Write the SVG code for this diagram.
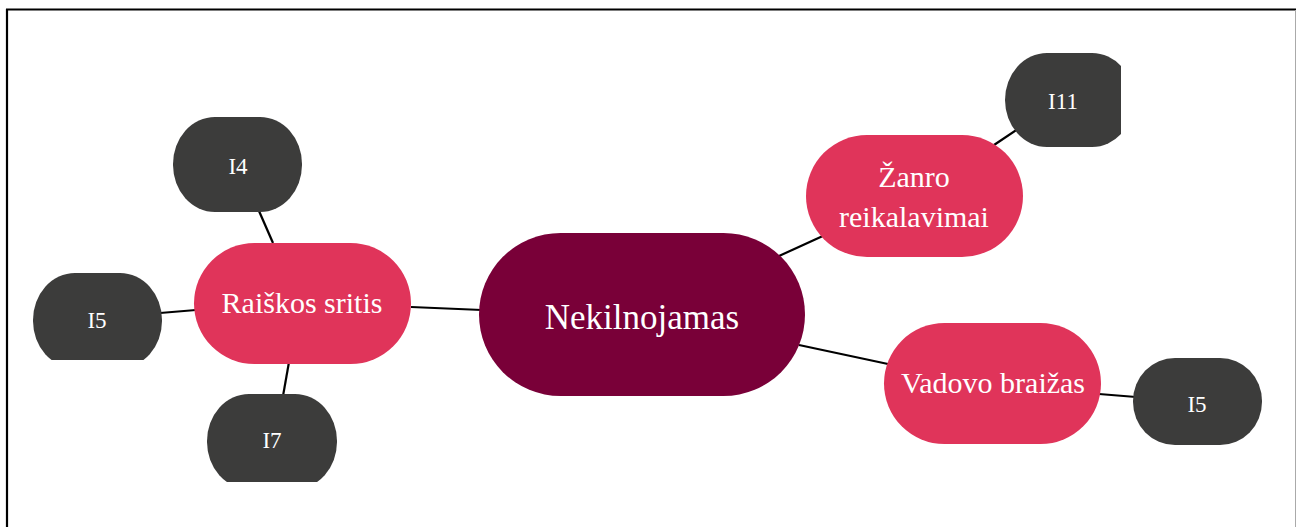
<svg xmlns="http://www.w3.org/2000/svg" width="1296" height="527" viewBox="0 0 1296 527">
<style>
.lbl{font-family:"Liberation Serif","Times New Roman",serif;fill:#ffffff;text-anchor:middle}
.main{fill:#790038}
.sub{fill:#e0345a}
.leaf{fill:#3c3c3b}
.conn line{stroke:#000;stroke-width:2.2}
</style>
<defs>
<clipPath id="clipI11"><rect x="990" y="40" width="131" height="120"/></clipPath>
<clipPath id="clipI5a"><rect x="20" y="260" width="160" height="100"/></clipPath>
<clipPath id="clipI7"><rect x="195" y="385" width="160" height="97"/></clipPath>
</defs>
<rect x="0" y="0" width="1296" height="527" fill="#ffffff"/>
<g id="frame">
<line x1="7" y1="9" x2="7" y2="527" stroke="#000" stroke-width="2.2"/>
<line x1="6" y1="9.5" x2="1296" y2="9.5" stroke="#000" stroke-width="2.2"/>
<line x1="1295.5" y1="10" x2="1295.5" y2="527" stroke="#aaa" stroke-width="1"/>
</g>
<g id="connectors" class="conn">
<line x1="411" y1="307" x2="482" y2="310"/>
<line x1="273" y1="243" x2="259" y2="211"/>
<line x1="196" y1="310" x2="160" y2="313"/>
<line x1="289" y1="362" x2="283" y2="396"/>
<line x1="779" y1="256" x2="825" y2="235"/>
<line x1="994" y1="145" x2="1018" y2="129"/>
<line x1="799" y1="345" x2="888" y2="364"/>
<line x1="1099" y1="394" x2="1136" y2="397"/>
</g>
<g id="n-nekilnojamas">
<rect class="main" x="479" y="233" width="326" height="163" rx="81.5"/>
<text class="lbl" x="642" y="329" font-size="35">Nekilnojamas</text>
</g>
<g id="n-raiskos">
<rect class="sub" x="194" y="243" width="217" height="121" rx="60.5"/>
<text class="lbl" x="302" y="313" font-size="30">Raiškos sritis</text>
</g>
<g id="n-zanro">
<rect class="sub" x="806" y="135" width="217" height="122" rx="61"/>
<text class="lbl" x="914" y="187" font-size="30">Žanro</text>
<text class="lbl" x="914" y="227" font-size="30">reikalavimai</text>
</g>
<g id="n-vadovo">
<rect class="sub" x="884" y="323" width="217" height="121" rx="60.5"/>
<text class="lbl" x="993" y="393" font-size="30">Vadovo braižas</text>
</g>
<g id="n-i4">
<rect class="leaf" x="173" y="117" width="129" height="95" rx="42" ry="47"/>
<text class="lbl" x="238" y="174" font-size="23">I4</text>
</g>
<g id="n-i5a">
<rect class="leaf" x="33" y="273" width="129" height="95" rx="42" ry="47" clip-path="url(#clipI5a)"/>
<text class="lbl" x="97" y="328" font-size="23">I5</text>
</g>
<g id="n-i7">
<rect class="leaf" x="207" y="394" width="130" height="95" rx="42" ry="47" clip-path="url(#clipI7)"/>
<text class="lbl" x="272" y="448" font-size="23">I7</text>
</g>
<g id="n-i11">
<rect class="leaf" x="1005" y="53" width="129" height="94" rx="42" ry="47" clip-path="url(#clipI11)"/>
<text class="lbl" x="1063" y="109" font-size="23">I11</text>
</g>
<g id="n-i5b">
<rect class="leaf" x="1133" y="358" width="129" height="87" rx="42" ry="43"/>
<text class="lbl" x="1197" y="412" font-size="23">I5</text>
</g>
</svg>
